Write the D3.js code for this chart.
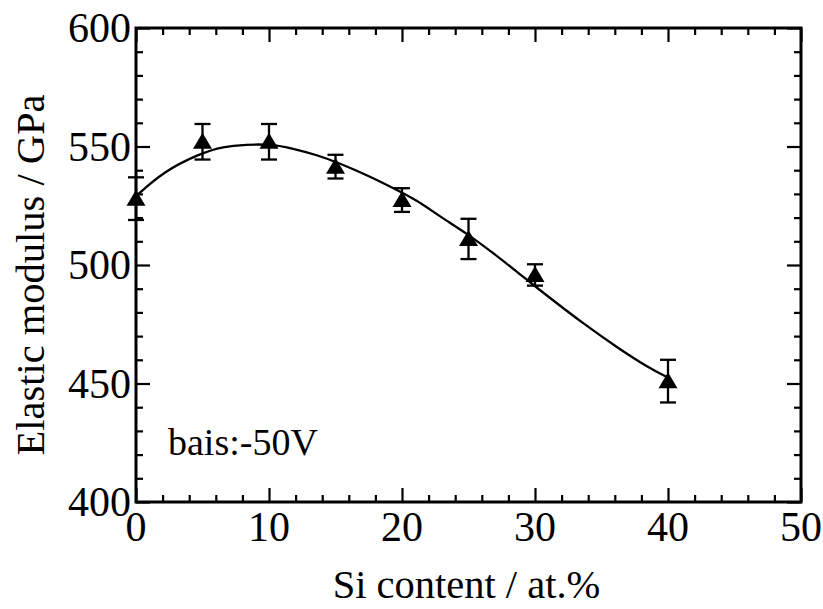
<!DOCTYPE html>
<html><head><meta charset="utf-8">
<script src="https://cdn.jsdelivr.net/npm/d3@7/dist/d3.min.js"></script>
<style>body{margin:0;background:#fff}svg{display:block}</style>
</head><body>
<svg id="c" width="823" height="609"></svg>
<script>
// Data
const siContent = [0, 5, 10, 15, 20, 25, 30, 40];
const modulus   = [528, 552, 552, 541.5, 527.4, 511, 495.8, 451];
const errors    = [9, 7.5, 7.5, 5, 5, 8.5, 4.5, 9];
const fitX = [0, 2.05, 4.8, 6.56, 8.3, 10.08, 11.8, 13.6, 15.3, 17.6, 19.35, 21.1, 22.86, 24.86, 26.9, 29.4, 31.1, 33.6, 36.1, 38.6, 40];
const fitY = [529, 539.4, 547, 550, 550.8, 551, 549.2, 546.4, 543, 537.3, 532.4, 527.4, 520.4, 513.4, 504.9, 493.7, 486.2, 475.4, 465.5, 456.4, 452.5];
const xTicks = [0, 10, 20, 30, 40, 50];
const yTicks = [400, 450, 500, 550, 600];
const xLabel = "Si content / at.%";
const yLabel = "Elastic modulus / GPa";
const note = "bais:-50V";

const svg = d3.select("#c");
const L = 136, R = 801, T = 28, B = 502;
const x = d3.scaleLinear().domain([0, 50]).range([L, R]);
const y = d3.scaleLinear().domain([400, 600]).range([B, T]);
const font = "'Liberation Serif', 'Times New Roman', serif";

// minor ticks
const xMinor = d3.range(0, 50.01, 2).filter(v => v % 10 !== 0);
const yMinor = d3.range(400, 600.01, 10).filter(v => v % 50 !== 0);
function styleAxis(g){ g.select(".domain").remove(); g.selectAll("line").attr("stroke","#000").attr("stroke-width",2.2); }

svg.append("g").attr("transform",`translate(0,${B})`).call(d3.axisBottom(x).tickValues(xMinor).tickSize(-7).tickFormat("")).call(styleAxis);
svg.append("g").attr("transform",`translate(0,${B})`).call(d3.axisBottom(x).tickValues(xTicks).tickSize(-14).tickFormat("")).call(styleAxis);
svg.append("g").attr("transform",`translate(0,${T})`).call(d3.axisTop(x).tickValues(xMinor).tickSize(-7).tickFormat("")).call(styleAxis);
svg.append("g").attr("transform",`translate(0,${T})`).call(d3.axisTop(x).tickValues(xTicks).tickSize(-14).tickFormat("")).call(styleAxis);
svg.append("g").attr("transform",`translate(${L},0)`).call(d3.axisLeft(y).tickValues(yMinor).tickSize(-7).tickFormat("")).call(styleAxis);
svg.append("g").attr("transform",`translate(${L},0)`).call(d3.axisLeft(y).tickValues(yTicks).tickSize(-14).tickFormat("")).call(styleAxis);
svg.append("g").attr("transform",`translate(${R},0)`).call(d3.axisRight(y).tickValues(yMinor).tickSize(-7).tickFormat("")).call(styleAxis);
svg.append("g").attr("transform",`translate(${R},0)`).call(d3.axisRight(y).tickValues(yTicks).tickSize(-14).tickFormat("")).call(styleAxis);

// frame
svg.append("rect").attr("x",L).attr("y",T).attr("width",R-L).attr("height",B-T)
  .attr("fill","none").attr("stroke","#000").attr("stroke-width",3);

// tick labels
svg.append("g").selectAll("text").data(xTicks).join("text")
  .attr("x", d => x(d)).attr("y", B + 39)
  .attr("text-anchor","middle").attr("font-family",font).attr("font-size",42).text(d => d);
svg.append("g").selectAll("text").data(yTicks).join("text")
  .attr("x", L - 5).attr("y", d => y(d) + 14)
  .attr("text-anchor","end").attr("font-family",font).attr("font-size",42).text(d => d);

// axis titles
svg.append("text").attr("x",(L+R)/2 - 2).attr("y",598).attr("text-anchor","middle")
  .attr("font-family",font).attr("font-size",40.5).text(xLabel);
svg.append("text").attr("transform",`translate(44,${(T+B)/2+10}) rotate(-90)`).attr("text-anchor","middle")
  .attr("font-family",font).attr("font-size",40.5).text(yLabel);

// note
svg.append("text").attr("x",168).attr("y",455).attr("font-family",font).attr("font-size",38).text(note);

// fit curve
const fit = fitX.map((v,i)=>[v, fitY[i]]);
svg.append("path").datum(fit)
  .attr("d", d3.line().x(d=>x(d[0])).y(d=>y(d[1])).curve(d3.curveBasis))
  .attr("fill","none").attr("stroke","#000").attr("stroke-width",2.3);

// error bars
const pts = siContent.map((v,i)=>({x:v, y:modulus[i], e:errors[i]}));
const eb = svg.append("g").attr("stroke","#000").attr("stroke-width",2.3);
pts.forEach(p=>{
  eb.append("line").attr("x1",x(p.x)).attr("x2",x(p.x)).attr("y1",y(p.y-p.e)).attr("y2",y(p.y+p.e));
  eb.append("line").attr("x1",x(p.x)-8).attr("x2",x(p.x)+8).attr("y1",y(p.y-p.e)).attr("y2",y(p.y-p.e));
  eb.append("line").attr("x1",x(p.x)-8).attr("x2",x(p.x)+8).attr("y1",y(p.y+p.e)).attr("y2",y(p.y+p.e));
});
// triangles
svg.append("g").selectAll("path").data(pts).join("path")
  .attr("transform", d=>`translate(${x(d.x)},${y(d.y)})`)
  .attr("d", "M0,-9 L9.5,7 L-9.5,7 Z").attr("fill","#000");
</script>
</body></html>
